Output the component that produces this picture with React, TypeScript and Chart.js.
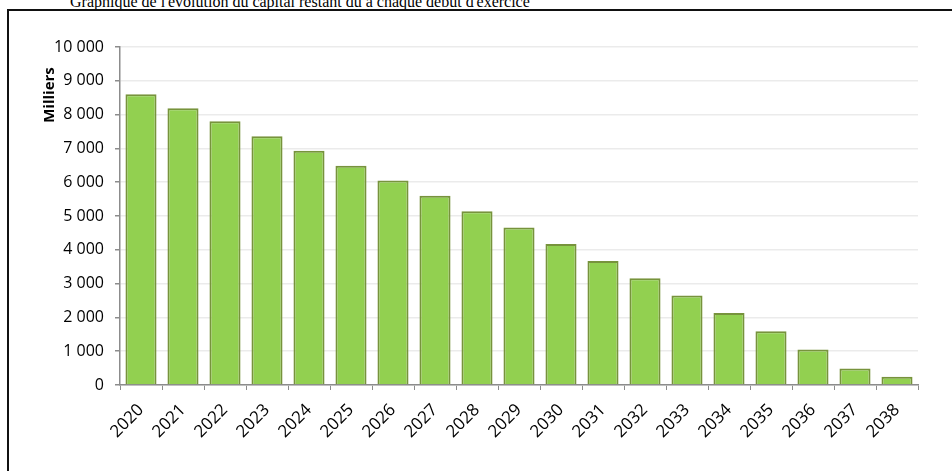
import React, { useEffect, useRef } from "react";
import { Chart, registerables } from "chart.js";

Chart.register(...registerables);

const years = ["2020","2021","2022","2023","2024","2025","2026","2027","2028","2029","2030","2031","2032","2033","2034","2035","2036","2037","2038"];
const capital = [8600, 8190, 7800, 7360, 6930, 6490, 6050, 5600, 5140, 4660, 4170, 3670, 3160, 2650, 2130, 1590, 1050, 490, 245];
const axisTitle = "Milliers";
const pageTitle = "Graphique de l'évolution du capital restant dû à chaque début d'exercice";
const FONT = "'Open Sans', sans-serif";

const fmt = (v: number) => String(Math.round(v)).replace(/\B(?=(\d{3})+(?!\d))/g, " ");

const yTitlePlugin = {
  id: "yTitlePlugin",
  afterDraw(chart: any) {
    const ctx = chart.ctx;
    const area = chart.chartArea;
    ctx.save();
    ctx.translate(41, area.top + 48);
    ctx.rotate(-Math.PI / 2);
    ctx.font = `bold 15px ${FONT}`;
    ctx.fillStyle = "#000";
    ctx.textAlign = "center";
    ctx.textBaseline = "middle";
    ctx.fillText(axisTitle, 0, 0);
    ctx.restore();
  },
};

export default function App() {
  const ref = useRef<HTMLCanvasElement | null>(null);
  useEffect(() => {
    if (!ref.current) return;
    const chart = new Chart(ref.current, {
      type: "bar",
      data: {
        labels: years,
        datasets: [
          {
            data: capital,
            backgroundColor: "#92D050",
            borderColor: "#77933C",
            borderWidth: 2,
            categoryPercentage: 1,
            barPercentage: 0.74,
          },
        ],
      },
      options: {
        responsive: false,
        animation: false,
        layout: { padding: { top: 36, right: 34, left: 0, bottom: 0 } },
        plugins: { legend: { display: false }, tooltip: { enabled: false } },
        scales: {
          x: {
            afterFit: (s: any) => { s.height = 86; },
            grid: { drawOnChartArea: false, tickLength: 5, color: "#8c8c8c", tickColor: "#8c8c8c", offset: true },
            border: { color: "#8c8c8c", width: 1.5 },
            ticks: { color: "#000", font: { family: FONT, size: 17 }, minRotation: 45, maxRotation: 45, padding: 10, autoSkip: false },
          },
          y: {
            min: 0,
            max: 10000,
            afterFit: (s: any) => { s.width = 111; },
            grid: { color: "#ebebeb", lineWidth: 1.5, tickLength: 5, tickColor: "#8c8c8c" },
            border: { color: "#8c8c8c", width: 1.5 },
            ticks: { stepSize: 1000, color: "#000", font: { family: FONT, size: 16 }, padding: 11, callback: (v: any) => fmt(Number(v)) },
          },
        },
      },
      plugins: [yTitlePlugin],
    });
    return () => chart.destroy();
  }, []);

  return (
    <div style={{ position: "fixed", left: 0, top: 0, width: 952, height: 471, overflow: "hidden", background: "#fff" }}>
      <div style={{ position: "absolute", left: 70, top: -6, fontFamily: "'Liberation Serif', 'Times New Roman', serif", fontSize: 16, lineHeight: "16px", whiteSpace: "nowrap", color: "#000" }}>
        {pageTitle}
      </div>
      <div style={{ position: "absolute", left: 7, top: 9, width: 1100, height: 600, borderLeft: "2px solid #111", borderTop: "2px solid #111" }} />
      <canvas ref={ref} width={943} height={460} style={{ position: "absolute", left: 9, top: 11, width: 943, height: 460 }} />
    </div>
  );
}
